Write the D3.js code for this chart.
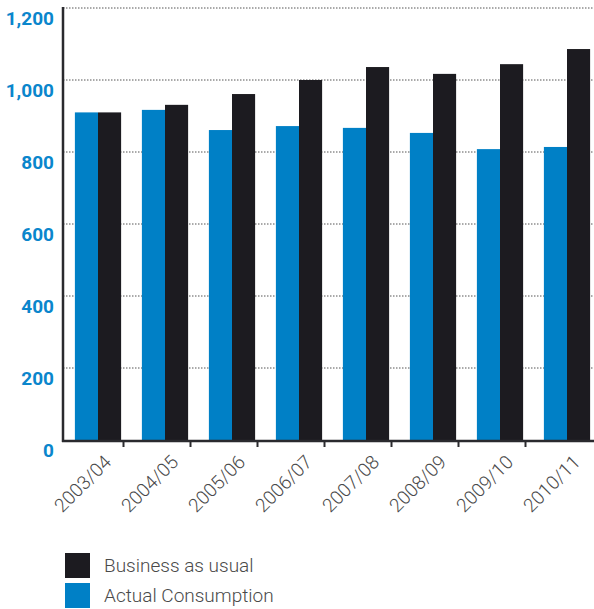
<!DOCTYPE html>
<html><head><meta charset="utf-8">
<script src="https://cdn.jsdelivr.net/npm/d3@7"></script>
<style>body{margin:0;background:#fff}svg{display:block}</style>
</head><body>
<svg id="c" width="594" height="609"></svg>
<script>
const categories = ["2003/04","2004/05","2005/06","2006/07","2007/08","2008/09","2009/10","2010/11"];
const actual = [910, 917, 861, 872, 867, 853, 808, 814];
const bau = [910, 931, 961, 1000, 1036, 1017, 1044, 1086];
const yTicks = [0, 200, 400, 600, 800, 1000, 1200];
const seriesNames = ["Business as usual", "Actual Consumption"];
const colors = {actual: "#0080c6", bau: "#1c1b20"};

const svg = d3.select("#c");
const axisX = 63, right = 594;
const y = d3.scaleLinear().domain([0, 1200]).range([440, 8]);
const x = d3.scaleBand().domain(categories).range([64.5, 600.5]).paddingInner(0.31).paddingOuter(0.155);
const sub = d3.scaleBand().domain(["actual","bau"]).range([0, x.bandwidth()]);

// gridlines
svg.append("g").selectAll("line").data(yTicks.filter(d => d > 0)).join("line")
  .attr("x1", axisX).attr("x2", right).attr("y1", d => y(d)).attr("y2", d => y(d))
  .attr("stroke", "#555").attr("stroke-width", 1).attr("stroke-dasharray", "1.5,1.5");

// bars
const g = svg.append("g");
categories.forEach((c, i) => {
  [["actual", actual[i]], ["bau", bau[i]]].forEach(([k, v]) => {
    g.append("rect").attr("x", x(c) + sub(k)).attr("width", sub.bandwidth())
      .attr("y", y(v)).attr("height", y(0) - y(v)).attr("fill", colors[k]);
  });
});

// y axis line
svg.append("line").attr("x1", axisX).attr("x2", axisX).attr("y1", 7).attr("y2", 442)
  .attr("stroke", "#2a2a2e").attr("stroke-width", 2.5);
// x axis line
svg.append("line").attr("x1", axisX - 1).attr("x2", right).attr("y1", 441).attr("y2", 441)
  .attr("stroke", "#2a2a2e").attr("stroke-width", 2.5);
// x ticks between groups
categories.slice(1).forEach(c => {
  const tx = x(c) - x.step() * x.paddingInner() / 2 - 8;
  svg.append("line").attr("x1", tx).attr("x2", tx).attr("y1", 441).attr("y2", 447)
    .attr("stroke", "#2a2a2e").attr("stroke-width", 2);
});

// y labels
svg.append("g").selectAll("text").data(yTicks).join("text")
  .attr("x", 54).attr("y", d => y(d) + 17).attr("text-anchor", "end")
  .attr("font-family", "Roboto, 'DejaVu Sans', sans-serif").attr("font-weight", "bold")
  .attr("font-size", 19).attr("fill", "#0a86cc").text(d => d3.format(",")(d));

// x labels
svg.append("g").selectAll("text").data(categories).join("text")
  .attr("transform", d => `translate(${x(d) + x.bandwidth() / 2 + 5},${454}) rotate(-45)`)
  .attr("text-anchor", "end").attr("dy", "0.7em")
  .attr("font-family", "Roboto, 'DejaVu Sans', sans-serif").attr("font-weight", 300)
  .attr("font-size", 19).attr("fill", "#4a4a4a").text(d => d);

// legend
const leg = [[seriesNames[0], colors.bau, 553], [seriesNames[1], colors.actual, 583]];
leg.forEach(([t, col, yy]) => {
  svg.append("rect").attr("x", 65).attr("y", yy).attr("width", 25).attr("height", 25).attr("fill", col);
  svg.append("text").attr("x", 104).attr("y", yy + 19).attr("font-family", "Roboto, 'DejaVu Sans', sans-serif")
    .attr("font-weight", 300).attr("font-size", 19).attr("fill", "#4a4a4a").text(t);
});
</script>
</body></html>
